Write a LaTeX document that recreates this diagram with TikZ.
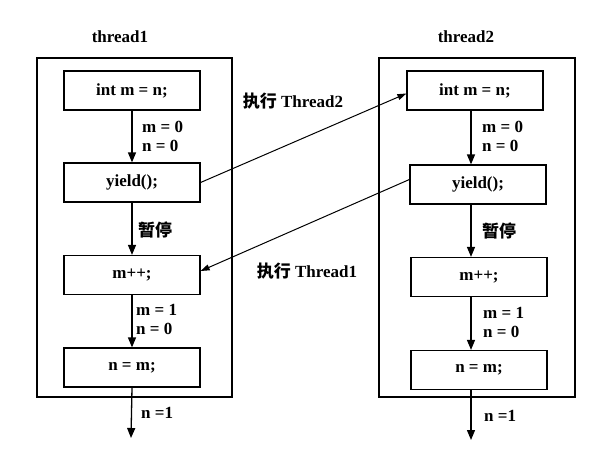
\documentclass[tikz,border=0pt]{standalone}
\usepackage{fontspec}
\setmainfont{Liberation Serif}
\newfontfamily\cjk{Noto Sans CJK SC}
\usetikzlibrary{arrows.meta}
\tikzset{
	stepbox/.style={draw, line width=1.2bp, minimum width=136bp, minimum height=39bp, inner sep=0pt, font=\fontsize{17bp}{19bp}\selectfont\bfseries},
	frame/.style={line width=1.5bp},
	flow/.style={line width=1.3bp, -{Triangle[length=10bp,width=8bp]}},
	jump/.style={line width=1bp, -{Triangle[length=9bp,width=6bp]}},
	note/.style={anchor=west, align=left, inner sep=0pt, font=\fontsize{17bp}{19bp}\selectfont\bfseries},
	title/.style={inner sep=0pt, font=\fontsize{17bp}{19bp}\selectfont\bfseries}
}
\begin{document}
\begin{tikzpicture}[x=1bp, y=-1bp]
			%%%%% START %%%%%
			\useasboundingbox (0, 0) rectangle (611, 450);
			
			% thread1
			\node[title] (t1) at (120, 37) {thread1};
			\draw[frame] (37, 58) rectangle (232, 397);
			\node[stepbox] (a1) at (132, 90.5) {int m = n;};
			\node[stepbox] (a2) at (132, 182.5) {yield();};
			\node[stepbox] (a3) at (132, 275) {m++;};
			\node[stepbox] (a4) at (132, 367.5) {n = m;};
			\coordinate (aend) at (131, 438);
			
			\draw[flow] (a1) -- (a2);
			\draw[flow] (a2) -- (a3);
			\draw[flow] (a3) -- (a4);
			\draw[flow] (a4.south) -- (aend);
			
			\node[note] (la1) at (142, 136.5) {m = 0\\n = 0};
			\node[note] (la2) at (138, 230) {\cjk\bfseries 暂停};
			\node[note] (la3) at (136, 319.5) {m = 1\\n = 0};
			\node[note] (la4) at (141, 413) {n =1};
			
			% thread2
			\node[title] (t2) at (466, 37) {thread2};
			\draw[frame] (379, 58) rectangle (575, 397);
			\node[stepbox] (b1) at (475, 90.5) {int m = n;};
			\node[stepbox] (b2) at (478, 184.5) {yield();};
			\node[stepbox] (b3) at (479, 277) {m++;};
			\node[stepbox] (b4) at (479, 370) {n = m;};
			\coordinate (rx) at (471, 0);
			\coordinate (bend) at (471, 440);
			
			\draw[flow] (b1.south -| rx) -- (b2.north -| rx);
			\draw[flow] (b2.south -| rx) -- (b3.north -| rx);
			\draw[flow] (b3.south -| rx) -- (b4.north -| rx);
			\draw[flow] (b4.south -| rx) -- (bend);
			
			\node[note] (lb1) at (482, 136.5) {m = 0\\n = 0};
			\node[note] (lb2) at (482, 231) {\cjk\bfseries 暂停};
			\node[note] (lb3) at (483, 322) {m = 1\\n = 0};
			\node[note] (lb4) at (484, 416) {n =1};
			
			% switching
			\draw[jump] (a2.east) -- ([yshift=-3bp]b1.west);
			\draw[jump] ([yshift=5bp]b2.west) -- ([yshift=4bp]a3.east);
			\node[title] (s2) at (293, 101) {\cjk\bfseries 执行\rmfamily\bfseries{} Thread2};
			\node[title] (s1) at (307, 271) {\cjk\bfseries 执行\rmfamily\bfseries{} Thread1};
			
			%%%%% END %%%%%
\end{tikzpicture}
\end{document}
